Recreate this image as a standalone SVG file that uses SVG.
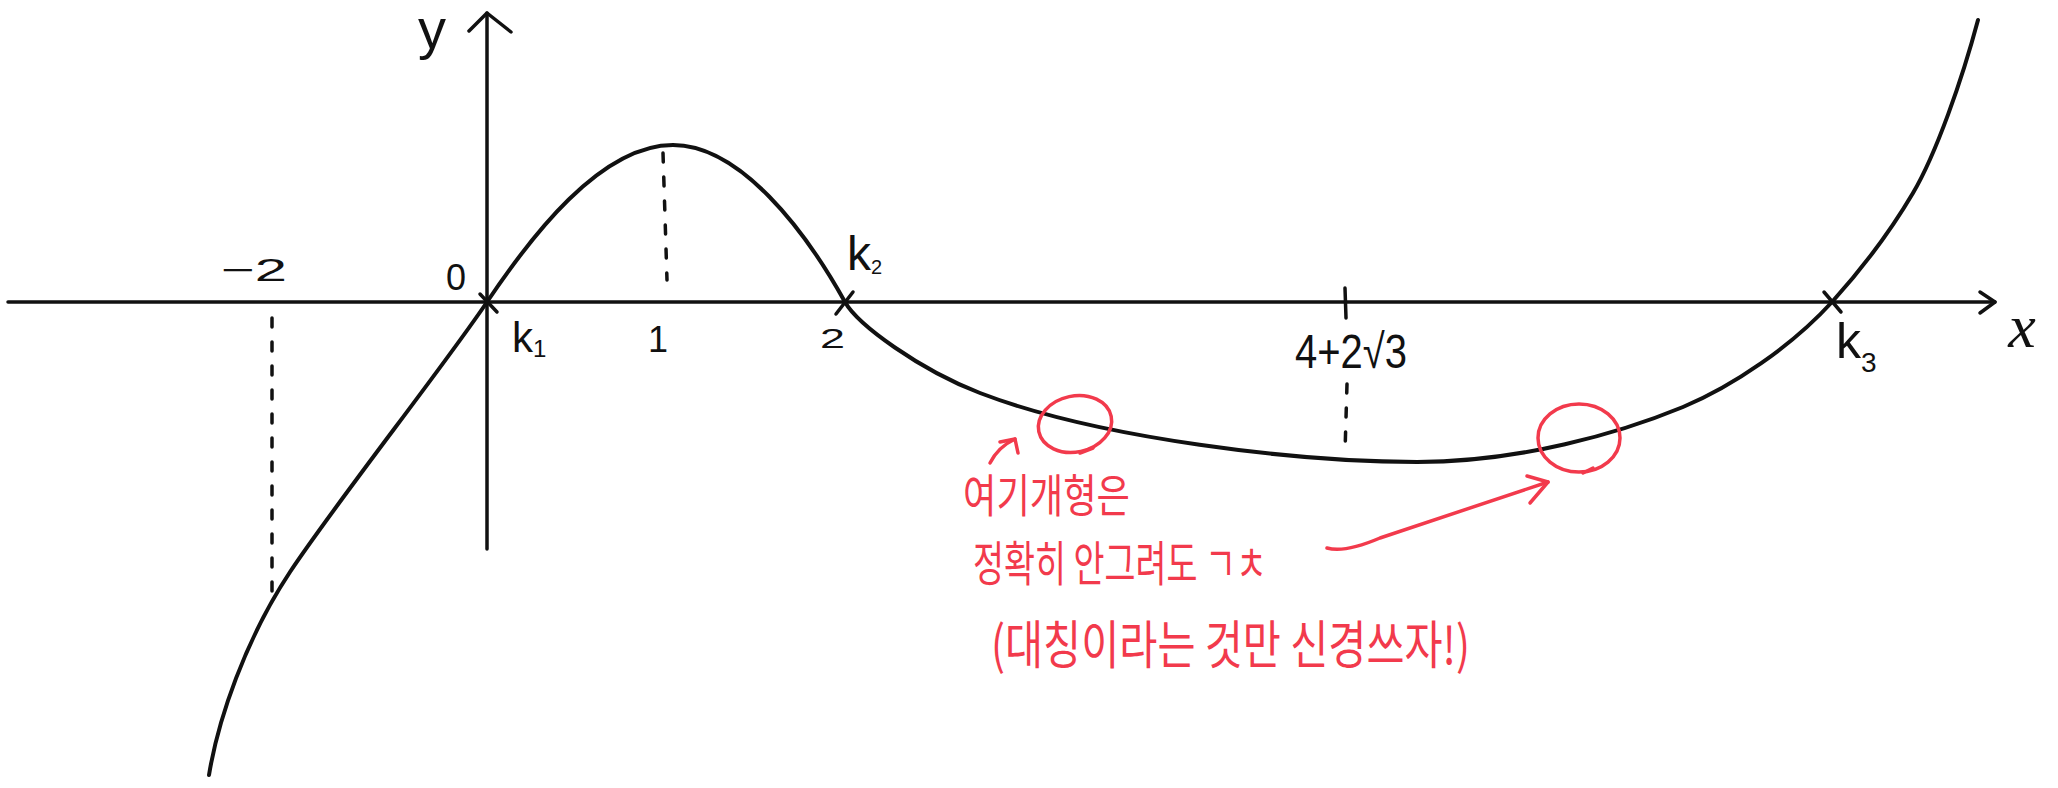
<svg xmlns="http://www.w3.org/2000/svg" width="2058" height="788" viewBox="0 0 2058 788">
<style>
.ink{fill:none;stroke:#111;stroke-width:3.5;stroke-linecap:round;stroke-linejoin:round}
.curve{fill:none;stroke:#111;stroke-width:4;stroke-linecap:round;stroke-linejoin:round}
.dash{fill:none;stroke:#111;stroke-width:3.5;stroke-linecap:round;stroke-dasharray:9 15}
.red{fill:none;stroke:#F23A4C;stroke-width:3.5;stroke-linecap:round;stroke-linejoin:round}
.lbl{font-family:"Liberation Sans",Arial,sans-serif;fill:#111}
.var{font-family:"Liberation Serif","Times New Roman",serif;font-style:italic;fill:#111}
.note{font-family:"Noto Sans CJK KR","Noto Sans",sans-serif;fill:#F23A4C}
</style>
<rect width="2058" height="788" fill="#fff"/>
<g id="axes">
  <line class="ink" x1="8" y1="302" x2="1995" y2="302"/>
  <polyline class="ink" points="1980,292 1995,302 1980,313"/>
  <line class="ink" x1="487" y1="13" x2="487" y2="549"/>
  <polyline class="ink" points="469,31 487,13 511,32"/>
</g>
<g id="guides">
  <line class="dash" x1="272" y1="318" x2="272" y2="605"/>
  <line class="dash" x1="663" y1="153" x2="667" y2="280"/>
  <line class="ink" x1="1345" y1="288" x2="1346" y2="318"/>
  <line class="dash" x1="1347" y1="384" x2="1345" y2="452"/>
</g>
<g id="curve">
  <path class="curve" d="M209,775 C218,720 245,640 290,572 C335,504 444,366 487,302 C530,238 600,145 673,145 C740,145 805,230 845,302 C858,325 920,370 980,393 C1100,439 1300,462 1417,462 C1520,462 1620,433 1683,407 C1733,386 1792,346 1832,302 C1860,271 1890,232 1913,193 C1936,154 1962,80 1978,20"/>
  <line class="ink" x1="480" y1="294" x2="497" y2="312"/>
  <line class="ink" x1="836" y1="314" x2="853" y2="292"/>
  <line class="ink" x1="1824" y1="292" x2="1841" y2="312"/>
</g>
<g id="labels">
  <text class="lbl" x="432" y="48" font-size="56" text-anchor="middle">y</text>
  <text class="var" x="2022" y="347" font-size="62" text-anchor="middle">x</text>
  <text class="lbl" x="456" y="290" font-size="36" text-anchor="middle">0</text>
  <text class="lbl" x="221" y="281" font-size="32" textLength="66" lengthAdjust="spacingAndGlyphs">−2</text>
  <text class="lbl" x="658" y="352" font-size="36" text-anchor="middle">1</text>
  <text class="lbl" x="820" y="348" font-size="28" textLength="25" lengthAdjust="spacingAndGlyphs">2</text>
  <text class="lbl" x="512" y="352" font-size="42">k<tspan font-size="24" dy="5">1</tspan></text>
  <text class="lbl" x="847" y="270" font-size="48">k<tspan font-size="20" dy="4">2</tspan></text>
  <text class="lbl" x="1836" y="358" font-size="50">k<tspan font-size="28" dy="14">3</tspan></text>
  <text class="lbl" x="1295" y="368" font-size="48" textLength="112" lengthAdjust="spacingAndGlyphs">4+2√3</text>
</g>
<g id="annotations">
  <ellipse class="red" cx="1075" cy="424" rx="37" ry="28" transform="rotate(-12 1075 424)"/>
  <line class="red" x1="1080" y1="453" x2="1093" y2="448"/>
  <ellipse class="red" cx="1579" cy="438" rx="41" ry="34"/>
  <line class="red" x1="1583" y1="473" x2="1593" y2="468"/>
  <path class="red" d="M990,463 Q998,447 1015,439"/>
  <polyline class="red" points="1000,442 1015,439 1018,453"/>
  <path class="red" d="M1327,548 Q1345,553 1380,538 L1548,482"/>
  <polyline class="red" points="1527,476 1548,482 1530,503"/>
  <text class="note" x="963" y="512" font-size="46" textLength="167" lengthAdjust="spacingAndGlyphs">여기개형은</text>
  <text class="note" x="973" y="581" font-size="48" textLength="294" lengthAdjust="spacingAndGlyphs">정확히 안그려도 ㄱㅊ</text>
  <text class="note" x="991" y="664" font-size="52" textLength="479" lengthAdjust="spacingAndGlyphs">(대칭이라는 것만 신경쓰자!)</text>
</g>
</svg>
